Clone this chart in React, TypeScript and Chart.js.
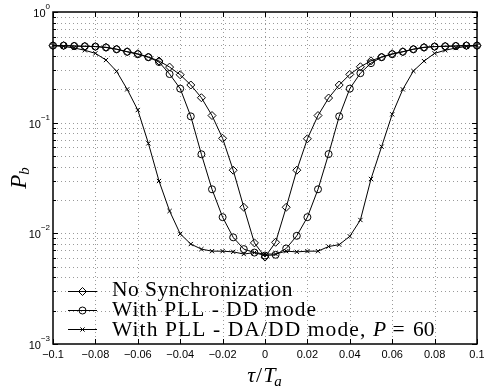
import React, { useEffect, useRef } from "react";
import { Chart, registerables } from "chart.js";
import { drawPoint } from "chart.js/helpers";

Chart.register(...registerables);

// ---------- data ----------
const tau = [
  -0.1, -0.095, -0.09, -0.085, -0.08, -0.075, -0.07, -0.065, -0.06, -0.055,
  -0.05, -0.045, -0.04, -0.035, -0.03, -0.025, -0.02, -0.015, -0.01, -0.005,
  0,
  0.005, 0.01, 0.015, 0.02, 0.025, 0.03, 0.035, 0.04, 0.045, 0.05,
  0.055, 0.06, 0.065, 0.07, 0.075, 0.08, 0.085, 0.09, 0.095, 0.1,
];

const noSync = [
  0.497, 0.497, 0.493, 0.49, 0.487, 0.48, 0.462, 0.438, 0.42, 0.392,
  0.361, 0.318, 0.271, 0.219, 0.168, 0.116, 0.0722, 0.0372, 0.0172, 0.0082,
  0.0061,
  0.0083, 0.0172, 0.0372, 0.0715, 0.116, 0.167, 0.219, 0.273, 0.32, 0.362,
  0.392, 0.42, 0.438, 0.462, 0.48, 0.487, 0.49, 0.493, 0.497, 0.497,
];

const pllDD = [
  0.497, 0.497, 0.493, 0.49, 0.487, 0.478, 0.46, 0.437, 0.415, 0.39,
  0.353, 0.275, 0.203, 0.114, 0.0518, 0.025, 0.014, 0.0092, 0.0072, 0.0067,
  0.0063,
  0.0064, 0.0073, 0.0095, 0.014, 0.025, 0.052, 0.114, 0.203, 0.28, 0.345,
  0.39, 0.415, 0.437, 0.46, 0.478, 0.487, 0.49, 0.493, 0.497, 0.497,
];

const pllDADD = [
  0.497, 0.488, 0.473, 0.451, 0.423, 0.368, 0.291, 0.2, 0.13, 0.065,
  0.0297, 0.0159, 0.0099, 0.008, 0.0072, 0.0069, 0.0069, 0.0068, 0.0065, 0.0067,
  0.0065,
  0.0065, 0.0069, 0.0068, 0.0069, 0.0069, 0.0076, 0.0079, 0.0094, 0.0132, 0.031,
  0.0607, 0.119, 0.2, 0.293, 0.36, 0.423, 0.451, 0.473, 0.488, 0.497,
];

const xTicks = [-0.1, -0.08, -0.06, -0.04, -0.02, 0, 0.02, 0.04, 0.06, 0.08, 0.1];
const xTickLabels = ["\u22120.1", "\u22120.08", "\u22120.06", "\u22120.04", "\u22120.02", "0", "0.02", "0.04", "0.06", "0.08", "0.1"];
const yDecades = [1, 0.1, 0.01, 0.001];
const yExponents = ["0", "\u22121", "\u22122", "\u22123"];
const yMinorMultipliers = [2, 3, 4, 5, 6, 7, 8, 9];
const legendLabels = ["No Synchronization", "With PLL - DD mode", "With PLL - DA/DD mode, "];
const legendTail = ["", "", "60"];
const markerStyles = ["rectRot", "circle", "crossRot"];
const markerRadii = [4, 3.5, 3];

const SANS = '"Liberation Sans", Arial, sans-serif';
const SERIF = '"Liberation Serif", "Times New Roman", serif';
const MATHSERIF = '"Liberation Serif", serif';

const axesPlugin = {
  id: "matlabAxes",
  beforeDatasetsDraw(chart: any) {
    const { ctx, chartArea: a, scales } = chart;
    const x = scales.x;
    const y = scales.y;
    ctx.save();
    ctx.strokeStyle = "#9a9a9a";
    ctx.lineWidth = 1;
    ctx.setLineDash([1, 3]);
    xTicks.forEach((v) => {
      const px = Math.round(x.getPixelForValue(v)) + 0.5;
      if (px <= a.left + 2 || px >= a.right - 2) return;
      ctx.beginPath();
      ctx.moveTo(px, a.top);
      ctx.lineTo(px, a.bottom);
      ctx.stroke();
    });
    const hv: number[] = [];
    yDecades.forEach((d) => {
      hv.push(d);
      if (d < 1) yMinorMultipliers.forEach((m) => hv.push(d * m));
    });
    hv.forEach((v) => {
      const py = Math.round(y.getPixelForValue(v)) + 0.5;
      if (py <= a.top + 2 || py >= a.bottom - 2) return;
      ctx.beginPath();
      ctx.moveTo(a.left, py);
      ctx.lineTo(a.right, py);
      ctx.stroke();
    });
    ctx.restore();
  },
  afterDatasetsDraw(chart: any) {
    const { ctx, chartArea: a, scales } = chart;
    const x = scales.x;
    const y = scales.y;
    ctx.save();
    ctx.setLineDash([]);
    ctx.strokeStyle = "#000";
    ctx.fillStyle = "#000";

    // inward ticks
    ctx.lineWidth = 1;
    xTicks.forEach((v) => {
      const px = Math.round(x.getPixelForValue(v)) + 0.5;
      ctx.beginPath();
      ctx.moveTo(px, a.bottom);
      ctx.lineTo(px, a.bottom - 5);
      ctx.moveTo(px, a.top);
      ctx.lineTo(px, a.top + 5);
      ctx.stroke();
    });
    yDecades.forEach((d) => {
      const py = Math.round(y.getPixelForValue(d)) + 0.5;
      ctx.beginPath();
      ctx.moveTo(a.left, py);
      ctx.lineTo(a.left + 5, py);
      ctx.moveTo(a.right, py);
      ctx.lineTo(a.right - 5, py);
      ctx.stroke();
      if (d < 1) {
        yMinorMultipliers.forEach((m) => {
          const pm = Math.round(y.getPixelForValue(d * m)) + 0.5;
          ctx.beginPath();
          ctx.moveTo(a.left, pm);
          ctx.lineTo(a.left + 3, pm);
          ctx.moveTo(a.right, pm);
          ctx.lineTo(a.right - 3, pm);
          ctx.stroke();
        });
      }
    });

    // box
    ctx.lineWidth = 1.5;
    ctx.strokeRect(a.left, a.top, a.right - a.left, a.bottom - a.top);

    // x tick labels
    ctx.font = `11px ${SANS}`;
    ctx.textAlign = "center";
    ctx.textBaseline = "alphabetic";
    xTicks.forEach((v, i) => {
      const px = x.getPixelForValue(v);
      ctx.fillText(xTickLabels[i], px, a.bottom + 14);
    });

    // y tick labels 10^k
    yDecades.forEach((d, i) => {
      const py = y.getPixelForValue(d);
      ctx.font = `8px ${SANS}`;
      const ew = ctx.measureText(yExponents[i]).width;
      ctx.textAlign = "right";
      ctx.textBaseline = "alphabetic";
      ctx.fillText(yExponents[i], a.left - 3, py - 3);
      ctx.font = `11px ${SANS}`;
      ctx.fillText("10", a.left - 3 - ew, py + 5);
    });

    // x title: τ/T_a
    {
      const cx = (a.left + a.right) / 2;
      const base = 382;
      const fBig = `italic 22px ${MATHSERIF}`;
      const fSlash = `22px ${MATHSERIF}`;
      const fSub = `italic 15px ${MATHSERIF}`;
      ctx.textAlign = "left";
      ctx.textBaseline = "alphabetic";
      ctx.font = fBig;
      const wt = ctx.measureText("\u03C4").width;
      const wT = ctx.measureText("T").width;
      ctx.font = fSlash;
      const ws = ctx.measureText("/").width;
      ctx.font = fSub;
      const wa = ctx.measureText("a").width;
      const total = wt + ws + wT + wa + 2;
      let sx = cx - total / 2;
      ctx.font = fBig;
      ctx.fillText("\u03C4", sx, base);
      sx += wt + 1;
      ctx.font = fSlash;
      ctx.fillText("/", sx, base);
      sx += ws + 1;
      ctx.font = fBig;
      ctx.fillText("T", sx, base);
      sx += wT;
      ctx.font = fSub;
      ctx.fillText("a", sx - 1, base + 4);
    }

    // y title: P_b
    {
      ctx.save();
      ctx.translate(26, (a.top + a.bottom) / 2);
      ctx.rotate(-Math.PI / 2);
      const fBig = `italic 23px ${MATHSERIF}`;
      const fSub = `italic 15px ${MATHSERIF}`;
      ctx.font = fBig;
      const wP = ctx.measureText("P").width;
      ctx.font = fSub;
      const wb = ctx.measureText("b").width;
      const total = wP + wb;
      ctx.textAlign = "left";
      ctx.textBaseline = "alphabetic";
      ctx.font = fBig;
      ctx.fillText("P", -total / 2, 0);
      ctx.font = fSub;
      ctx.fillText("b", -total / 2 + wP, 3);
      ctx.restore();
    }

    // legend
    const lineYs = [291, 310, 329];
    const textBases = [296, 316, 335.5];
    const textTargets = [181, 205, 261];
    chart.data.datasets.forEach((ds: any, i: number) => {
      const ly = lineYs[i];
      ctx.strokeStyle = "#000";
      ctx.lineWidth = 1;
      ctx.beginPath();
      ctx.moveTo(68, ly + 0.5);
      ctx.lineTo(97, ly + 0.5);
      ctx.stroke();
      ctx.fillStyle = "rgba(0,0,0,0)";
      drawPoint(ctx, { pointStyle: markerStyles[i], radius: markerRadii[i], rotation: 0, borderWidth: 1 } as any, 82.5, ly + 0.5);
      ctx.fillStyle = "#000";
      ctx.font = `21.5px ${SERIF}`;
      ctx.textAlign = "left";
      ctx.textBaseline = "alphabetic";
      (ctx as any).letterSpacing = "0px";
      const w0 = ctx.measureText(legendLabels[i]).width;
      const ls = Math.max(0, (textTargets[i] - w0) / legendLabels[i].length);
      (ctx as any).letterSpacing = `${ls.toFixed(2)}px`;
      ctx.fillText(legendLabels[i], 112, textBases[i]);
      (ctx as any).letterSpacing = "0px";
      if (legendTail[i]) {
        const sx = 112 + textTargets[i];
        ctx.font = `italic 21.5px ${SERIF}`;
        ctx.fillText("P", sx, textBases[i]);
        ctx.font = `21.5px ${SERIF}`;
        ctx.textAlign = "center";
        ctx.fillText("=", 398.5, textBases[i]);
        ctx.textAlign = "left";
        ctx.fillText(legendTail[i], 413, textBases[i]);
      }
    });

    ctx.restore();
  },
};

function makeSeries(vals: number[]) {
  return tau.map((t, i) => ({ x: t, y: vals[i] }));
}

export default function App() {
  const canvasRef = useRef<HTMLCanvasElement | null>(null);

  useEffect(() => {
    if (!canvasRef.current) return;
    const seriesList = [noSync, pllDD, pllDADD];
    const chart = new Chart(canvasRef.current, {
      type: "line",
      data: {
        datasets: seriesList.map((vals, i) => ({
          label: legendLabels[i],
          data: makeSeries(vals),
          borderColor: "#000",
          borderWidth: 1,
          backgroundColor: "rgba(0,0,0,0)",
          pointStyle: markerStyles[i] as any,
          pointRadius: markerRadii[i],
          pointBorderColor: "#000",
          pointBackgroundColor: "rgba(0,0,0,0)",
          pointBorderWidth: 1,
          tension: 0,
          fill: false,
          clip: false as any,
        })),
      },
      options: {
        animation: false,
        responsive: false,
        maintainAspectRatio: false,
        layout: { padding: { top: 12, right: 7, left: 0, bottom: 0 } },
        plugins: {
          legend: { display: false },
          tooltip: { enabled: false },
        },
        events: [],
        scales: {
          x: {
            type: "linear",
            min: -0.1,
            max: 0.1,
            ticks: { display: false },
            grid: { display: false },
            border: { display: false },
            afterFit: (s: any) => {
              s.height = 46;
            },
          },
          y: {
            type: "logarithmic",
            min: 0.001,
            max: 1,
            ticks: { display: false },
            grid: { display: false },
            border: { display: false },
            afterFit: (s: any) => {
              s.width = 53;
            },
          },
        },
      },
      plugins: [axesPlugin],
    });
    return () => chart.destroy();
  }, []);

  return (
    <div style={{ position: "fixed", left: 0, top: 0, width: 484, height: 390, background: "#fff" }}>
      <canvas ref={canvasRef} width={484} height={390} style={{ display: "block" }} />
    </div>
  );
}
